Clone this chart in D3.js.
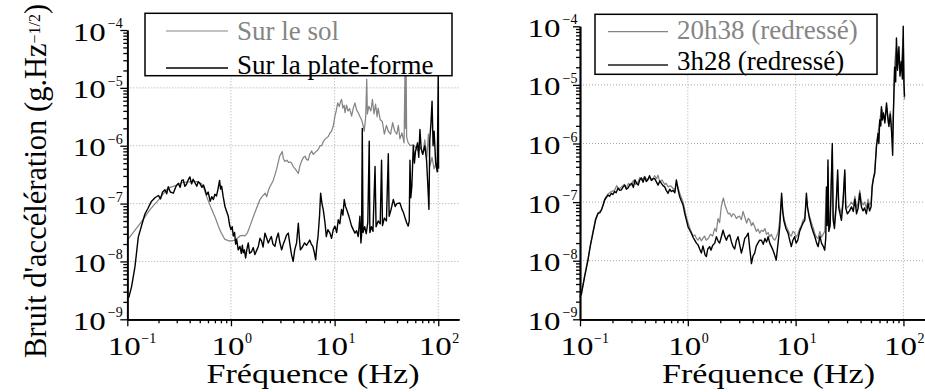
<!DOCTYPE html>
<html><head><meta charset="utf-8">
<script src="https://cdn.jsdelivr.net/npm/d3@7"></script>
<style>
html,body{margin:0;padding:0;background:#fff;}
svg text{font-family:"Liberation Serif","Times New Roman",Times,serif;}
</style></head><body>
<svg id="chart" width="925" height="392"></svg>
<script>
// ---- DATA : pairs [log10(frequency in Hz), log10(noise in g/sqrt(Hz))] ----
const surLeSol = [
[-1.000,-7.63],[-0.862,-7.31],[-0.780,-7.10],[-0.700,-6.94],[-0.640,-6.80],[-0.605,-6.73],[-0.550,-6.70],[-0.476,-6.64],
[-0.430,-6.63],[-0.380,-6.62],[-0.330,-6.62],[-0.283,-6.66],[-0.260,-6.74],[-0.235,-6.88],[-0.186,-7.10],[-0.150,-7.25],
[-0.122,-7.39],[-0.090,-7.52],[-0.058,-7.62],[-0.010,-7.65],[0.040,-7.63],[0.087,-7.56],[0.110,-7.55],[0.135,-7.56],
[0.160,-7.50],[0.183,-7.39],[0.230,-7.16],[0.280,-6.93],[0.300,-6.88],[0.330,-6.82],[0.345,-6.88],[0.360,-6.78],
[0.376,-6.71],[0.408,-6.60],[0.440,-6.41],[0.470,-6.18],[0.495,-6.10],[0.505,-6.22],[0.520,-6.27],[0.540,-6.25],
[0.555,-6.29],[0.570,-6.28],[0.585,-6.30],[0.600,-6.36],[0.620,-6.40],[0.650,-6.48],[0.665,-6.35],[0.680,-6.27],
[0.700,-6.20],[0.714,-6.18],[0.730,-6.24],[0.745,-6.25],[0.760,-6.15],[0.778,-6.09],[0.795,-6.15],[0.810,-6.12],
[0.840,-6.07],[0.860,-6.00],[0.875,-6.00],[0.890,-5.93],[0.907,-5.89],[0.925,-5.86],[0.939,-5.84],[0.955,-5.78],
[0.970,-5.75],[0.987,-5.66],[1.003,-5.49],[1.015,-5.40],[1.030,-5.26],[1.045,-5.32],[1.055,-5.25],[1.067,-5.20],
[1.080,-5.35],[1.092,-5.30],[1.100,-5.43],[1.115,-5.30],[1.130,-5.40],[1.145,-5.36],[1.164,-5.49],[1.180,-5.35],
[1.196,-5.26],[1.212,-5.38],[1.228,-5.43],[1.245,-5.50],[1.260,-5.55],[1.275,-5.65],[1.286,-5.75],[1.300,-5.50],
[1.310,-4.85],[1.316,-5.45],[1.330,-5.32],[1.350,-5.40],[1.365,-5.20],[1.380,-5.45],[1.395,-5.28],[1.410,-5.50],
[1.420,-5.35],[1.440,-5.55],[1.460,-5.58],[1.480,-5.80],[1.500,-5.65],[1.518,-5.75],[1.540,-5.80],[1.560,-5.60],
[1.580,-5.75],[1.600,-5.80],[1.615,-5.65],[1.630,-5.88],[1.650,-5.78],[1.670,-5.95],[1.680,-4.60],[1.685,-5.70],
[1.690,-4.70],[1.695,-5.85],[1.710,-5.95],[1.730,-6.00],[1.760,-5.98],[1.790,-6.05],[1.810,-6.10],[1.830,-6.02],
[1.850,-6.15],[1.870,-5.90],[1.890,-6.20],[1.905,-5.80],[1.920,-6.35],[1.940,-6.20],[1.960,-6.40],[1.980,-6.30],
[2.000,-6.45]
];
const surLaPlateForme = [
[-1.000,-8.62],[-0.985,-8.62],[-0.958,-8.43],[-0.926,-8.09],[-0.894,-7.58],[-0.862,-7.38],[-0.830,-7.18],[-0.800,-7.08],
[-0.770,-6.97],[-0.733,-6.90],[-0.700,-6.86],[-0.680,-6.92],[-0.660,-6.80],[-0.637,-6.76],[-0.620,-6.83],[-0.605,-6.71],
[-0.585,-6.80],[-0.556,-6.82],[-0.530,-6.70],[-0.508,-6.65],[-0.490,-6.72],[-0.475,-6.60],[-0.460,-6.59],[-0.445,-6.70],
[-0.430,-6.67],[-0.410,-6.58],[-0.396,-6.54],[-0.380,-6.66],[-0.365,-6.58],[-0.347,-6.64],[-0.330,-6.70],[-0.315,-6.62],
[-0.300,-6.65],[-0.280,-6.72],[-0.265,-6.68],[-0.250,-6.76],[-0.235,-6.85],[-0.220,-6.80],[-0.200,-6.96],[-0.185,-6.88],
[-0.170,-6.93],[-0.155,-6.84],[-0.140,-6.87],[-0.125,-6.75],[-0.110,-6.60],[-0.100,-6.75],[-0.090,-6.70],[-0.075,-6.88],
[-0.058,-7.05],[-0.045,-7.12],[-0.026,-7.22],[-0.012,-7.38],[0.000,-7.45],[0.012,-7.40],[0.022,-7.56],[0.035,-7.50],
[0.045,-7.70],[0.055,-7.62],[0.070,-7.80],[0.087,-7.74],[0.100,-7.86],[0.110,-7.72],[0.119,-7.85],[0.130,-7.80],
[0.141,-7.94],[0.155,-7.78],[0.167,-7.68],[0.180,-7.86],[0.199,-7.83],[0.215,-7.76],[0.231,-7.88],[0.250,-7.80],
[0.264,-7.74],[0.280,-7.60],[0.296,-7.65],[0.310,-7.75],[0.328,-7.51],[0.345,-7.60],[0.360,-7.68],[0.375,-7.62],
[0.390,-7.57],[0.405,-7.70],[0.424,-7.74],[0.440,-7.60],[0.457,-7.51],[0.470,-7.66],[0.489,-7.80],[0.505,-7.70],
[0.520,-7.63],[0.535,-7.55],[0.553,-7.51],[0.570,-7.72],[0.585,-7.89],[0.600,-8.00],[0.615,-7.80],[0.633,-7.68],
[0.650,-7.34],[0.660,-7.60],[0.670,-7.80],[0.690,-7.75],[0.710,-7.68],[0.730,-7.72],[0.760,-7.63],[0.775,-7.70],
[0.790,-7.74],[0.805,-7.85],[0.817,-7.97],[0.830,-7.70],[0.840,-7.57],[0.855,-7.20],[0.865,-6.82],[0.878,-7.00],
[0.890,-7.10],[0.907,-7.33],[0.920,-7.57],[0.935,-7.45],[0.955,-7.51],[0.970,-7.60],[0.987,-7.45],[1.003,-7.39],
[1.020,-7.50],[1.035,-7.28],[1.050,-7.35],[1.067,-7.10],[1.080,-7.20],[1.093,-6.93],[1.105,-7.05],[1.116,-7.10],
[1.138,-7.22],[1.150,-7.30],[1.164,-7.39],[1.180,-7.45],[1.196,-7.51],[1.212,-7.47],[1.228,-7.57],[1.244,-7.22],
[1.254,-7.68],[1.260,-7.55],[1.267,-5.70],[1.274,-7.50],[1.290,-7.40],[1.305,-7.52],[1.320,-7.33],[1.334,-5.92],
[1.340,-7.50],[1.355,-7.40],[1.370,-7.48],[1.390,-6.36],[1.400,-7.40],[1.420,-7.30],[1.440,-7.35],[1.453,-6.25],
[1.462,-7.38],[1.480,-7.25],[1.500,-7.30],[1.518,-6.14],[1.526,-7.22],[1.545,-7.10],[1.566,-6.93],[1.585,-7.05],
[1.600,-7.00],[1.630,-6.99],[1.650,-7.10],[1.665,-7.16],[1.680,-7.25],[1.695,-7.33],[1.710,-7.39],[1.720,-7.30],
[1.727,-6.25],[1.735,-6.90],[1.745,-6.70],[1.759,-6.00],[1.770,-6.30],[1.780,-6.10],[1.800,-5.95],[1.812,-6.20],
[1.823,-5.72],[1.835,-6.05],[1.850,-6.15],[1.870,-6.00],[1.887,-6.25],[1.900,-6.71],[1.910,-7.10],[1.918,-5.90],
[1.930,-5.60],[1.940,-5.23],[1.950,-6.00],[1.960,-5.75],[1.975,-6.30],[1.990,-6.45],[2.000,-4.70],[2.003,-6.40]
];
const redresse20h38 = [
[-1.000,-8.62],[-0.985,-8.55],[-0.957,-8.25],[-0.926,-7.97],[-0.880,-7.50],[-0.855,-7.28],[-0.833,-7.20],[-0.800,-7.12],
[-0.770,-6.94],[-0.740,-6.86],[-0.710,-6.82],[-0.680,-6.80],[-0.660,-6.72],[-0.640,-6.78],[-0.616,-6.74],[-0.590,-6.70],
[-0.570,-6.76],[-0.550,-6.68],[-0.530,-6.72],[-0.505,-6.63],[-0.485,-6.70],[-0.460,-6.65],[-0.445,-6.58],[-0.425,-6.63],
[-0.400,-6.56],[-0.380,-6.62],[-0.355,-6.58],[-0.330,-6.62],[-0.307,-6.55],[-0.290,-6.60],[-0.276,-6.54],[-0.260,-6.66],
[-0.240,-6.62],[-0.214,-6.70],[-0.200,-6.68],[-0.183,-6.74],[-0.160,-6.72],[-0.140,-6.76],[-0.120,-6.80],[-0.106,-6.66],
[-0.090,-6.75],[-0.075,-6.85],[-0.060,-6.92],[-0.044,-7.00],[-0.029,-7.12],[-0.014,-7.25],[0.002,-7.35],[0.020,-7.45],
[0.035,-7.52],[0.050,-7.58],[0.065,-7.56],[0.080,-7.62],[0.095,-7.65],[0.110,-7.60],[0.125,-7.66],[0.140,-7.62],
[0.155,-7.58],[0.170,-7.65],[0.190,-7.62],[0.210,-7.55],[0.230,-7.58],[0.250,-7.45],[0.265,-7.50],[0.280,-7.28],
[0.295,-7.35],[0.310,-7.08],[0.320,-7.00],[0.330,-6.93],[0.345,-7.05],[0.360,-7.13],[0.375,-7.20],[0.390,-7.19],
[0.405,-7.25],[0.420,-7.20],[0.435,-7.22],[0.450,-7.28],[0.466,-7.25],[0.480,-7.24],[0.497,-7.30],[0.512,-7.16],
[0.528,-7.25],[0.545,-7.36],[0.560,-7.28],[0.575,-7.31],[0.590,-7.40],[0.605,-7.35],[0.620,-7.42],[0.635,-7.50],
[0.650,-7.46],[0.667,-7.53],[0.683,-7.48],[0.700,-7.50],[0.715,-7.45],[0.730,-7.55],[0.745,-7.52],[0.760,-7.59],
[0.775,-7.55],[0.790,-7.62],[0.806,-7.65],[0.820,-7.60],[0.837,-7.52],[0.853,-7.30],[0.870,-6.90],[0.880,-7.15],
[0.895,-7.30],[0.910,-7.40],[0.930,-7.48],[0.945,-7.55],[0.960,-7.58],[0.975,-7.50],[0.990,-7.52],[1.005,-7.60],
[1.020,-7.55],[1.037,-7.45],[1.054,-7.40],[1.070,-7.30],[1.085,-7.28],[1.100,-6.95],[1.110,-7.10],[1.125,-7.22],
[1.147,-7.35],[1.165,-7.45],[1.180,-7.55],[1.195,-7.60],[1.209,-7.62],[1.225,-7.50],[1.240,-7.60],[1.255,-7.55],
[1.270,-7.50],[1.286,-6.80],[1.293,-7.35],[1.300,-6.40],[1.308,-7.40],[1.320,-7.30],[1.340,-6.10],[1.348,-7.25],
[1.360,-7.35],[1.375,-7.05],[1.390,-6.55],[1.400,-7.05],[1.425,-7.20],[1.440,-6.95],[1.456,-6.50],[1.465,-7.05],
[1.480,-7.10],[1.500,-7.05],[1.518,-7.00],[1.535,-7.05],[1.550,-6.90],[1.565,-7.10],[1.580,-7.00],[1.595,-6.80],
[1.610,-7.00],[1.625,-7.05],[1.640,-7.00],[1.656,-7.10],[1.672,-6.95],[1.686,-7.05],[1.700,-7.00],[1.710,-6.70],
[1.722,-6.58],[1.734,-6.45],[1.750,-6.02],[1.765,-5.80],[1.780,-5.62],[1.796,-5.40],[1.815,-5.50],[1.830,-5.60],
[1.843,-5.35],[1.860,-5.65],[1.878,-5.45],[1.895,-5.90],[1.910,-5.30],[1.920,-4.60],[1.935,-4.35],[1.950,-4.50],
[1.965,-4.70],[1.980,-4.65],[1.998,-4.20],[2.010,-5.25]
];
const redresse3h28 = [
[-1.000,-8.62],[-0.985,-8.55],[-0.957,-8.27],[-0.926,-7.99],[-0.905,-7.75],[-0.880,-7.53],[-0.855,-7.30],[-0.833,-7.19],
[-0.815,-7.18],[-0.800,-7.13],[-0.785,-7.05],[-0.770,-6.96],[-0.755,-6.92],[-0.740,-6.88],[-0.725,-6.90],[-0.710,-6.85],
[-0.695,-6.87],[-0.680,-6.82],[-0.665,-6.84],[-0.647,-6.76],[-0.632,-6.80],[-0.616,-6.79],[-0.600,-6.74],[-0.585,-6.71],
[-0.570,-6.78],[-0.554,-6.76],[-0.537,-6.70],[-0.520,-6.68],[-0.505,-6.75],[-0.490,-6.62],[-0.475,-6.68],[-0.460,-6.71],
[-0.445,-6.62],[-0.430,-6.59],[-0.415,-6.66],[-0.400,-6.57],[-0.385,-6.65],[-0.370,-6.62],[-0.355,-6.55],[-0.338,-6.63],
[-0.322,-6.60],[-0.307,-6.60],[-0.290,-6.66],[-0.276,-6.71],[-0.260,-6.64],[-0.245,-6.68],[-0.230,-6.72],[-0.214,-6.74],
[-0.200,-6.80],[-0.183,-6.85],[-0.168,-6.78],[-0.152,-6.82],[-0.137,-6.80],[-0.120,-6.84],[-0.106,-6.62],[-0.090,-6.79],
[-0.075,-6.91],[-0.060,-6.98],[-0.044,-7.05],[-0.029,-7.19],[-0.014,-7.30],[0.002,-7.42],[0.018,-7.48],[0.033,-7.53],
[0.048,-7.60],[0.064,-7.65],[0.080,-7.70],[0.095,-7.73],[0.110,-7.80],[0.126,-7.87],[0.140,-7.75],[0.150,-7.82],
[0.160,-7.90],[0.172,-7.93],[0.185,-7.80],[0.203,-7.76],[0.215,-7.82],[0.230,-7.74],[0.250,-7.70],[0.265,-7.59],
[0.280,-7.66],[0.295,-7.70],[0.310,-7.60],[0.327,-7.48],[0.342,-7.58],[0.358,-7.65],[0.373,-7.58],[0.389,-7.56],
[0.405,-7.68],[0.420,-7.76],[0.435,-7.80],[0.450,-7.66],[0.466,-7.59],[0.480,-7.72],[0.497,-7.87],[0.512,-7.76],
[0.528,-7.62],[0.545,-7.58],[0.560,-7.53],[0.575,-7.80],[0.590,-8.05],[0.605,-7.92],[0.620,-7.87],[0.635,-7.75],
[0.650,-7.70],[0.666,-7.65],[0.683,-7.65],[0.700,-7.72],[0.715,-7.62],[0.730,-7.68],[0.745,-7.59],[0.760,-7.70],
[0.775,-7.76],[0.790,-7.82],[0.805,-7.90],[0.820,-7.99],[0.837,-7.70],[0.853,-7.42],[0.870,-6.85],[0.880,-7.15],
[0.890,-7.31],[0.910,-7.45],[0.930,-7.53],[0.945,-7.65],[0.960,-7.76],[0.975,-7.65],[0.990,-7.59],[1.005,-7.70],
[1.020,-7.65],[1.037,-7.50],[1.054,-7.42],[1.070,-7.35],[1.085,-7.31],[1.100,-6.85],[1.110,-7.08],[1.125,-7.25],
[1.147,-7.42],[1.165,-7.52],[1.180,-7.60],[1.195,-7.70],[1.209,-7.76],[1.225,-7.58],[1.240,-7.70],[1.255,-7.75],
[1.270,-7.82],[1.280,-7.60],[1.286,-6.74],[1.293,-7.40],[1.300,-6.28],[1.308,-7.50],[1.320,-7.40],[1.340,-6.00],
[1.348,-7.30],[1.360,-7.45],[1.375,-7.10],[1.390,-6.45],[1.400,-7.10],[1.425,-7.31],[1.440,-7.00],[1.456,-6.45],
[1.465,-7.10],[1.480,-7.20],[1.500,-7.15],[1.518,-7.08],[1.535,-7.16],[1.550,-6.95],[1.565,-7.20],[1.580,-7.10],
[1.595,-6.85],[1.610,-7.08],[1.625,-7.15],[1.640,-7.10],[1.656,-7.20],[1.672,-7.02],[1.686,-7.15],[1.700,-7.08],
[1.710,-6.74],[1.722,-6.60],[1.734,-6.51],[1.750,-6.05],[1.765,-5.83],[1.772,-6.00],[1.780,-5.60],[1.790,-5.70],
[1.796,-5.37],[1.805,-5.60],[1.815,-5.48],[1.828,-5.65],[1.843,-5.31],[1.855,-5.55],[1.865,-5.71],[1.878,-5.50],
[1.890,-5.80],[1.900,-6.20],[1.908,-5.40],[1.918,-4.70],[1.928,-4.95],[1.935,-4.20],[1.945,-4.75],[1.958,-4.35],
[1.968,-4.85],[1.980,-4.60],[1.990,-4.90],[1.998,-4.00],[2.004,-4.95],[2.010,-5.20]
];

// ---- TICKS / LABELS ----
const xTickExponents = [-1, 0, 1, 2];          // tick labels 10^-1 ... 10^2
const yTickExponents = [-9, -8, -7, -6, -5, -4]; // tick labels 10^-9 ... 10^-4
const xGridExponents = [0, 1, 2];
const yGridExponents = [-8, -7, -6, -5];
const legendLeft = ["Sur le sol", "Sur la plate-forme"];
const legendRight = ["20h38 (redressé)", "3h28 (redressé)"];
const xTitle = "Fréquence (Hz)";
const yTitleMain = "Bruit d'accélération (g.Hz";
const yTitleSup = "\u22121/2";
const yTitleEnd = ")";

const xDomain = [0.1, Math.pow(10, 2.2)];
const yDomain = [1e-9, 1e-4];
const GRAY = "#858585";
const FONT = "'Liberation Serif', 'Times New Roman', Times, serif";

const svg = d3.select("#chart");

function txt(sel) { return sel.attr("font-family", FONT).attr("font-weight", "normal"); }

function drawPanel(p) {
  const x = d3.scaleLog().domain(xDomain).range([p.left, p.right]);
  const y = d3.scaleLog().domain(yDomain).range([p.bottom, p.top]);
  const g = svg.append("g");

  // grid
  g.append("g").selectAll("line").data(yGridExponents).join("line")
    .attr("x1", p.left).attr("x2", p.right)
    .attr("y1", d => y(Math.pow(10, d))).attr("y2", d => y(Math.pow(10, d)))
    .attr("stroke", "#a8a8a8").attr("stroke-width", 1).attr("stroke-dasharray", "1,2");
  g.append("g").selectAll("line").data(xGridExponents).join("line")
    .attr("x1", d => x(Math.pow(10, d))).attr("x2", d => x(Math.pow(10, d)))
    .attr("y1", p.bottom).attr("y2", p.top)
    .attr("stroke", "#a8a8a8").attr("stroke-width", 1).attr("stroke-dasharray", "1,2");

  // series
  const line = d3.line().x(d => x(Math.pow(10, d[0]))).y(d => y(Math.pow(10, d[1])));
  p.series.forEach(s => {
    g.append("path").attr("d", line(s.data)).attr("fill", "none")
      .attr("stroke", s.color).attr("stroke-width", s.width).attr("stroke-linejoin", "round");
  });

  // axes
  const xMinor = [], yMinor = [];
  for (let e = -1; e <= 1; e++) for (let k = 2; k <= 9; k++) xMinor.push(k * Math.pow(10, e));
  for (let e = -9; e <= -5; e++) for (let k = 2; k <= 9; k++) yMinor.push(k * Math.pow(10, e));
  const xMajor = xTickExponents.map(e => Math.pow(10, e));
  const yMajor = yTickExponents.map(e => Math.pow(10, e));

  const styleAxis = sel => {
    sel.selectAll("path.domain").attr("stroke", "#000").attr("stroke-width", 1.7);
    sel.selectAll(".tick line").attr("stroke", "#000").attr("stroke-width", 1.3);
  };
  g.append("g").attr("transform", `translate(0,${p.bottom})`)
    .call(d3.axisBottom(x).tickValues(xMinor).tickSize(4).tickSizeOuter(0).tickFormat("")).call(styleAxis);
  g.append("g").attr("transform", `translate(0,${p.bottom})`)
    .call(d3.axisBottom(x).tickValues(xMajor).tickSize(7).tickSizeOuter(0).tickFormat("")).call(styleAxis);
  g.append("g").attr("transform", `translate(${p.left},0)`)
    .call(d3.axisLeft(y).tickValues(yMinor).tickSize(4).tickSizeOuter(0).tickFormat("")).call(styleAxis);
  g.append("g").attr("transform", `translate(${p.left},0)`)
    .call(d3.axisLeft(y).tickValues(yMajor).tickSize(7).tickSizeOuter(0).tickFormat("")).call(styleAxis);

  // x tick labels
  xTickExponents.forEach(e => {
    const tx = x(Math.pow(10, e));
    txt(g.append("text")).attr("transform", `translate(${tx - 3},355) scale(1.27,1)`)
      .attr("text-anchor", "middle").attr("font-size", 26).text("10");
    txt(g.append("text")).attr("x", tx + 14).attr("y", 343).attr("font-size", 14)
      .text(String(e).replace("-", "\u2212"));
  });
  // y tick labels
  yTickExponents.forEach(e => {
    const ty = y(Math.pow(10, e));
    txt(g.append("text")).attr("transform", `translate(${p.left - p.yLabelOff},${ty + 10.5}) scale(1.27,1)`)
      .attr("text-anchor", "end").attr("font-size", 26).text("10");
    txt(g.append("text")).attr("x", p.left - p.yLabelOff + 2).attr("y", ty - 2).attr("font-size", 14)
      .text(String(e).replace("-", "\u2212"));
  });

  // x title
  txt(g.append("text")).attr("transform", `translate(${p.titleX},383) scale(1.24,1)`)
    .attr("text-anchor", "middle").attr("font-size", 27.5).text(xTitle);

  // legend
  const L = p.legend;
  g.append("rect").attr("x", L.x).attr("y", L.y).attr("width", L.w).attr("height", L.h)
    .attr("fill", "#fff").attr("stroke", "#000").attr("stroke-width", 1.5);
  L.items.forEach((it, i) => {
    g.append("line").attr("x1", L.lx1).attr("x2", L.lx2).attr("y1", it.ly).attr("y2", it.ly)
      .attr("stroke", it.lineColor).attr("stroke-width", it.lineWidth);
    txt(g.append("text")).attr("x", L.tx).attr("y", it.ty).attr("font-size", 27)
      .attr("fill", it.textColor).text(it.label);
  });
}

drawPanel({
  left: 127.3, right: 459, top: 30, bottom: 319.3, yLabelOff: 21.5, titleX: 313,
  series: [
    { data: surLeSol, color: GRAY, width: 1.25 },
    { data: surLaPlateForme, color: "#000", width: 1.4 }
  ],
  legend: { x: 145, y: 13.3, w: 307, h: 62.4, lx1: 166, lx2: 228, tx: 237,
    items: [
      { label: legendLeft[0], ly: 31, ty: 40, lineColor: GRAY, lineWidth: 1.2, textColor: GRAY },
      { label: legendLeft[1], ly: 68, ty: 74, lineColor: "#000", lineWidth: 1.3, textColor: "#000" }
    ] }
});
drawPanel({
  left: 580, right: 925, top: 26.3, bottom: 319.3, yLabelOff: 19.5, titleX: 768.5,
  series: [
    { data: redresse20h38, color: GRAY, width: 1.25 },
    { data: redresse3h28, color: "#000", width: 1.4 }
  ],
  legend: { x: 595, y: 14.3, w: 282, h: 60, lx1: 608, lx2: 668, tx: 677,
    items: [
      { label: legendRight[0], ly: 31.7, ty: 38.5, lineColor: GRAY, lineWidth: 1.2, textColor: GRAY },
      { label: legendRight[1], ly: 65, ty: 70, lineColor: "#555", lineWidth: 2.2, textColor: "#000" }
    ] }
});

// y title (rotated)
const yt = txt(svg.append("text")).attr("transform", "translate(45.7,358) rotate(-90)")
  .attr("font-size", 30.5).attr("text-anchor", "start");
yt.append("tspan").text(yTitleMain);
yt.append("tspan").attr("font-size", 16).attr("dy", -6).text(yTitleSup);
yt.append("tspan").attr("dy", 6).text(yTitleEnd);
</script>
</body></html>
